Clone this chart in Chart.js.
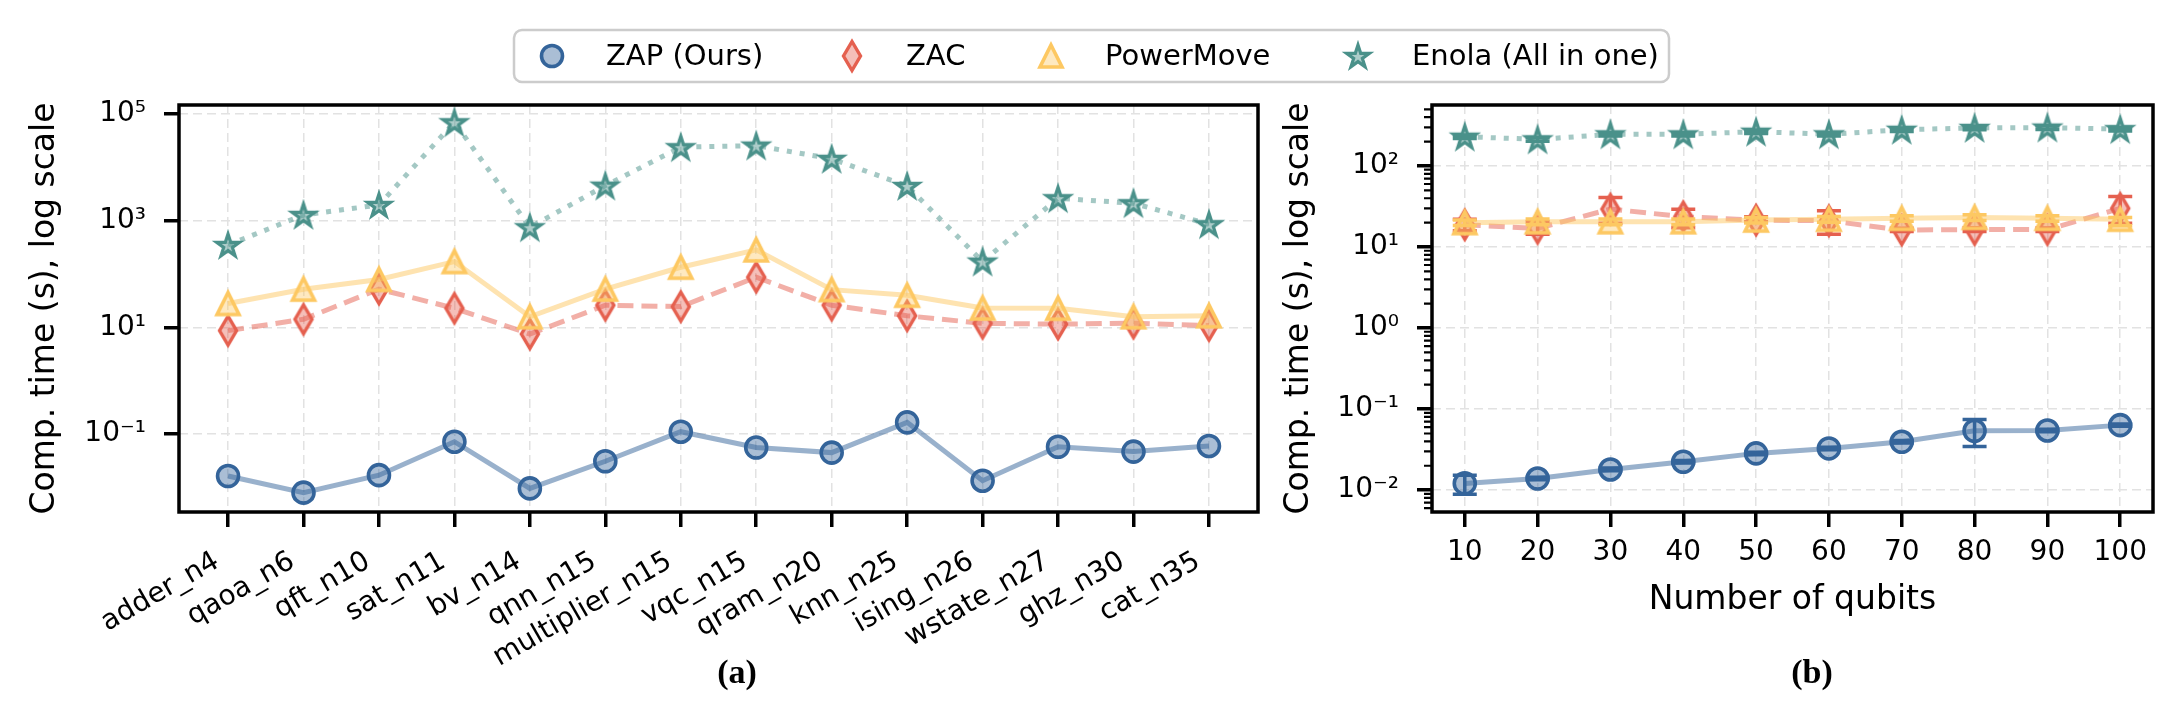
<!DOCTYPE html>
<html>
<head>
<meta charset="utf-8">
<script src="https://cdn.jsdelivr.net/npm/chart.js@4.4.1/dist/chart.umd.min.js"></script>
<style>
  html, body { margin: 0; padding: 0; background: #fff; }
  #wrap { position: relative; width: 2183px; height: 715px; }
  #wrap canvas { position: absolute; left: 0; top: 0; }
</style>
</head>
<body>
<div id="wrap">
  <canvas id="chartA" width="2183" height="715"></canvas>
  <canvas id="chartB" width="2183" height="715"></canvas>
</div>
<script>
// ---- data: panel (a), per benchmark ----
const benchmarks = ['adder_n4', 'qaoa_n6', 'qft_n10', 'sat_n11', 'bv_n14', 'qnn_n15', 'multiplier_n15',
  'vqc_n15', 'qram_n20', 'knn_n25', 'ising_n26', 'wstate_n27', 'ghz_n30', 'cat_n35'];
const zapTimeA   = [0.0164, 0.0080, 0.0170, 0.072, 0.0096, 0.031, 0.111, 0.056, 0.045, 0.166, 0.0134, 0.058, 0.047, 0.060];
const zacTimeA   = [8.7, 14.2, 52, 22.8, 7.5, 26, 24.5, 87, 26, 16.5, 11.9, 11.5, 12, 10.8];
const pmTimeA    = [28, 52, 79, 171, 15.8, 52, 134, 283, 51, 40, 23, 22.8, 15.8, 16.5];
const enolaTimeA = [350, 1280, 1970, 69800, 752, 4530, 23800, 25500, 14400, 4470, 171, 2630, 2120, 857];
const yTicksA = [0.1, 10, 1000, 100000];

// ---- data: panel (b), per number of qubits ----
const qubits = [10, 20, 30, 40, 50, 60, 70, 80, 90, 100];
const zapTimeB  = [0.0121, 0.0139, 0.0180, 0.0224, 0.0284, 0.0327, 0.0395, 0.0540, 0.0545, 0.0634];
const zapLowB   = [0.0089, 0.0134, 0.0173, 0.0216, 0.0274, 0.0315, 0.0381, 0.0345, 0.0527, 0.0614];
const zapHighB  = [0.0153, 0.0144, 0.0187, 0.0232, 0.0294, 0.0339, 0.0409, 0.0742, 0.0563, 0.0654];
const zacTimeB  = [18.8, 17.0, 29.4, 23.7, 21.5, 21.1, 16.2, 16.4, 16.4, 30.0];
const zacLowB   = [15.9, 14.4, 19.6, 17.3, 20.5, 14.4, 15.6, 15.6, 15.6, 19.6];
const zacHighB  = [22.0, 20.5, 41.0, 29.2, 23.7, 28.0, 17.0, 17.3, 17.2, 42.0];
const pmTimeB   = [20.0, 20.5, 20.5, 20.5, 21.5, 22.0, 22.6, 23.2, 22.6, 22.0];
const pmLowB    = [18.4, 18.9, 18.8, 18.9, 19.8, 20.2, 20.8, 21.3, 20.8, 18.3];
const pmHighB   = [21.6, 22.1, 22.2, 22.1, 23.2, 23.8, 24.4, 25.1, 24.4, 23.2];
const enolaTimeB = [230, 213, 246, 246, 265, 246, 280, 295, 298, 285];
const enolaLowB  = [218, 202, 234, 234, 252, 234, 266, 280, 283, 271];
const enolaHighB = [242, 224, 258, 258, 278, 258, 294, 310, 313, 299];
const yTicksB = [0.01, 0.1, 1, 10, 100];

const FONT = 'DejaVu Sans';
const COL = {
  zap: '#34649a', zapLine: 'rgba(52,100,154,0.5)', zapFill: 'rgba(52,100,154,0.42)',
  zac: '#e5604f', zacLine: 'rgba(229,96,79,0.5)', zacFill: 'rgba(229,96,79,0.4)',
  pm: '#fdc862', pmLine: 'rgba(253,200,98,0.5)', pmFill: 'rgba(253,200,98,0.4)',
  en: '#4a918a', enLine: 'rgba(74,145,138,0.5)', enFill: 'rgba(74,145,138,0.45)'
};

const SUP = { '-': '\u207B', '0': '\u2070', '1': '\u00B9', '2': '\u00B2', '3': '\u00B3', '4': '\u2074', '5': '\u2075' };
function powLabel(v) {
  const e = Math.round(Math.log10(v));
  return '10' + String(e).split('').map(c => SUP[c]).join('');
}

// marker images (matplotlib-like thin diamond, triangle and star)
function markerCanvas(w, h, draw) {
  const c = document.createElement('canvas');
  c.width = w; c.height = h;
  draw(c.getContext('2d'), w / 2, h / 2);
  return c;
}
const diamondImg = markerCanvas(28, 42, (g, cx, cy) => {
  g.beginPath();
  g.moveTo(cx, cy - 14.5); g.lineTo(cx + 8.5, cy); g.lineTo(cx, cy + 14.5); g.lineTo(cx - 8.5, cy);
  g.closePath();
  g.fillStyle = COL.zacFill; g.fill();
  g.lineWidth = 3.4; g.strokeStyle = COL.zac; g.stroke();
});
const triangleImg = markerCanvas(36, 38, (g, cx, cy) => {
  g.beginPath();
  g.moveTo(cx, cy - 11); g.lineTo(cx + 11, cy + 11); g.lineTo(cx - 11, cy + 11);
  g.closePath();
  g.fillStyle = COL.pmFill; g.fill();
  g.lineWidth = 3.6; g.strokeStyle = COL.pm; g.stroke();
});
const starImg = markerCanvas(40, 40, (g, cx, cy) => {
  const R = 12, r = R * 0.382;
  g.beginPath();
  for (let k = 0; k < 10; k++) {
    const rad = k % 2 === 0 ? R : r;
    const a = -Math.PI / 2 + k * Math.PI / 5;
    const px = cx + rad * Math.cos(a), py = cy + 1 + rad * Math.sin(a);
    if (k === 0) g.moveTo(px, py); else g.lineTo(px, py);
  }
  g.closePath();
  g.fillStyle = COL.enFill; g.fill();
  g.lineWidth = 3.2; g.strokeStyle = COL.en; g.stroke();
});

function lineSet(label, xs, ys, opts) {
  return Object.assign({
    label: label,
    data: xs.map((x, i) => ({ x: x, y: ys[i] })),
    fill: false,
    tension: 0,
    borderWidth: 5,
    pointRadius: 10.5,
    pointHoverRadius: 10.5
  }, opts);
}

const idxA = benchmarks.map((_, i) => i);
const zapStyle   = { borderColor: COL.zapLine, pointStyle: 'circle', pointBackgroundColor: COL.zapFill, pointBorderColor: COL.zap, pointBorderWidth: 3.6, order: 4, capColor: COL.zap };
const zacStyle   = { borderColor: COL.zacLine, borderDash: [16, 8], pointStyle: diamondImg, order: 3, capColor: COL.zac };
const pmStyle    = { borderColor: COL.pmLine, pointStyle: triangleImg, order: 2, capColor: COL.pm };
const enolaStyle = { borderColor: COL.enLine, borderDash: [5, 8], pointStyle: starImg, order: 1, capColor: COL.en };

const grid = { color: '#e2e2e2', lineWidth: 1.5, tickColor: '#000', tickWidth: 3.5, tickLength: 15 };
const border = { display: false, dash: [9, 5] };
const tickFont = { family: FONT, size: 28 };
const titleFont = { family: FONT, size: 33 };

// ---- plugins ----
const frame = {
  id: 'frame',
  afterDraw(chart) {
    const { ctx, chartArea: a } = chart;
    ctx.save();
    ctx.lineWidth = 3.5;
    ctx.strokeStyle = '#000';
    ctx.strokeRect(a.left, a.top, a.right - a.left, a.bottom - a.top);
    ctx.restore();
  }
};

const errorBars = {
  id: 'errorBars',
  afterDatasetDraw(chart, args) {
    const ds = chart.data.datasets[args.index];
    if (!ds.errLow) return;
    const { ctx } = chart;
    const xs = chart.scales.x, ys = chart.scales.y;
    ctx.save();
    ctx.strokeStyle = ds.capColor;
    ctx.lineWidth = 3.5;
    ds.data.forEach((p, i) => {
      const x = xs.getPixelForValue(p.x);
      const y1 = ys.getPixelForValue(ds.errLow[i]);
      const y2 = ys.getPixelForValue(ds.errHigh[i]);
      ctx.beginPath();
      ctx.moveTo(x, y1); ctx.lineTo(x, y2);
      ctx.moveTo(x - 12, y1); ctx.lineTo(x + 12, y1);
      ctx.moveTo(x - 12, y2); ctx.lineTo(x + 12, y2);
      ctx.stroke();
    });
    ctx.restore();
  }
};

const minorTicks = {
  id: 'minorTicks',
  afterDraw(chart) {
    const { ctx, chartArea } = chart;
    const ys = chart.scales.y;
    ctx.save();
    ctx.strokeStyle = '#000';
    ctx.lineWidth = 2.2;
    ctx.beginPath();
    for (let e = -3; e <= 2; e++) {
      for (let k = 2; k <= 9; k++) {
        const v = k * Math.pow(10, e);
        if (v < ys.min || v > ys.max) continue;
        const y = ys.getPixelForValue(v);
        ctx.moveTo(chartArea.left - 8, y);
        ctx.lineTo(chartArea.left, y);
      }
    }
    ctx.stroke();
    ctx.restore();
  }
};

// figure-level legend and sub-captions, drawn on the full-width canvas of panel (a)
const legendSlots = [552, 852, 1051, 1358];
const figureLegend = {
  id: 'figureLegend',
  afterDraw(chart) {
    const ctx = chart.ctx;
    ctx.save();
    const bx = 514, by = 30, bw = 1155, bh = 52, r = 8;
    ctx.beginPath();
    ctx.moveTo(bx + r, by);
    ctx.arcTo(bx + bw, by, bx + bw, by + bh, r);
    ctx.arcTo(bx + bw, by + bh, bx, by + bh, r);
    ctx.arcTo(bx, by + bh, bx, by, r);
    ctx.arcTo(bx, by, bx + bw, by, r);
    ctx.closePath();
    ctx.fillStyle = 'rgba(255,255,255,0.85)';
    ctx.fill();
    ctx.lineWidth = 2.5;
    ctx.strokeStyle = '#cccccc';
    ctx.stroke();

    const cy = 56;
    chart.data.datasets.forEach((ds, i) => {
      const mx = legendSlots[i];
      const ps = ds.pointStyle;
      if (ps instanceof HTMLCanvasElement) {
        ctx.drawImage(ps, mx - ps.width / 2, cy - ps.height / 2);
      } else {
        ctx.beginPath();
        ctx.arc(mx, cy, 10.5, 0, Math.PI * 2);
        ctx.fillStyle = ds.pointBackgroundColor;
        ctx.fill();
        ctx.lineWidth = ds.pointBorderWidth;
        ctx.strokeStyle = ds.pointBorderColor;
        ctx.stroke();
      }
      ctx.fillStyle = '#000';
      ctx.font = '29px "DejaVu Sans"';
      ctx.textAlign = 'left';
      ctx.textBaseline = 'middle';
      ctx.fillText(ds.label, mx + 54, cy + 1);
    });

    ctx.font = 'bold 34px "Liberation Serif"';
    ctx.textAlign = 'center';
    ctx.textBaseline = 'middle';
    ctx.fillText('(a)', 737, 674);
    ctx.fillText('(b)', 1812, 674);
    ctx.restore();
  }
};

// ---- panel (a) ----
new Chart(document.getElementById('chartA'), {
  type: 'line',
  data: {
    datasets: [
      lineSet('ZAP (Ours)', idxA, zapTimeA, zapStyle),
      lineSet('ZAC', idxA, zacTimeA, zacStyle),
      lineSet('PowerMove', idxA, pmTimeA, pmStyle),
      lineSet('Enola (All in one)', idxA, enolaTimeA, enolaStyle)
    ]
  },
  options: {
    responsive: false,
    animation: false,
    devicePixelRatio: 1,
    layout: { padding: { left: 0, top: 105, right: 925, bottom: 13 } },
    plugins: { legend: { display: false }, tooltip: { enabled: false } },
    scales: {
      x: {
        type: 'linear',
        min: -0.65,
        max: 13.65,
        afterBuildTicks: s => { s.ticks = idxA.map(v => ({ value: v })); },
        afterFit: s => { s.height = 190; },
        ticks: {
          callback: v => benchmarks[v],
          minRotation: 30, maxRotation: 30, autoSkip: false,
          padding: 18, labelOffset: -11,
          font: tickFont, color: '#000'
        },
        grid: grid,
        border: border
      },
      y: {
        type: 'logarithmic',
        min: 0.00347,
        max: 147000,
        afterBuildTicks: s => { s.ticks = yTicksA.map(v => ({ value: v })); },
        afterFit: s => { s.width = 179; },
        ticks: { callback: v => powLabel(v), padding: 18, autoSkip: false, font: tickFont, color: '#000' },
        title: { display: true, text: 'Comp. time (s), log scale', font: titleFont, color: '#000', padding: { top: 26, bottom: 0 } },
        grid: grid,
        border: border
      }
    }
  },
  plugins: [frame, figureLegend]
});

// ---- panel (b) ----
new Chart(document.getElementById('chartB'), {
  type: 'line',
  data: {
    datasets: [
      lineSet('ZAP (Ours)', qubits, zapTimeB, Object.assign({ errLow: zapLowB, errHigh: zapHighB }, zapStyle)),
      lineSet('ZAC', qubits, zacTimeB, Object.assign({ errLow: zacLowB, errHigh: zacHighB }, zacStyle)),
      lineSet('PowerMove', qubits, pmTimeB, Object.assign({ errLow: pmLowB, errHigh: pmHighB }, pmStyle)),
      lineSet('Enola (All in one)', qubits, enolaTimeB, Object.assign({ errLow: enolaLowB, errHigh: enolaHighB }, enolaStyle))
    ]
  },
  options: {
    responsive: false,
    animation: false,
    devicePixelRatio: 1,
    layout: { padding: { left: 1265, top: 105, right: 30, bottom: 93 } },
    plugins: { legend: { display: false }, tooltip: { enabled: false } },
    scales: {
      x: {
        type: 'linear',
        min: 5.5,
        max: 104.5,
        afterBuildTicks: s => { s.ticks = qubits.map(v => ({ value: v })); },
        afterFit: s => { s.height = 110; },
        ticks: { padding: 9, autoSkip: false, maxRotation: 0, font: tickFont, color: '#000' },
        title: { display: true, text: 'Number of qubits', font: titleFont, color: '#000', padding: { top: 0, bottom: 2 } },
        grid: grid,
        border: border
      },
      y: {
        type: 'logarithmic',
        min: 0.00537,
        max: 566,
        afterBuildTicks: s => { s.ticks = yTicksB.map(v => ({ value: v })); },
        afterFit: s => { s.width = 167; },
        ticks: { callback: v => powLabel(v), padding: 18, autoSkip: false, font: tickFont, color: '#000' },
        title: { display: true, text: 'Comp. time (s), log scale', font: titleFont, color: '#000', padding: { top: 15, bottom: 0 } },
        grid: grid,
        border: border
      }
    }
  },
  plugins: [frame, errorBars, minorTicks]
});
</script>
</body>
</html>
